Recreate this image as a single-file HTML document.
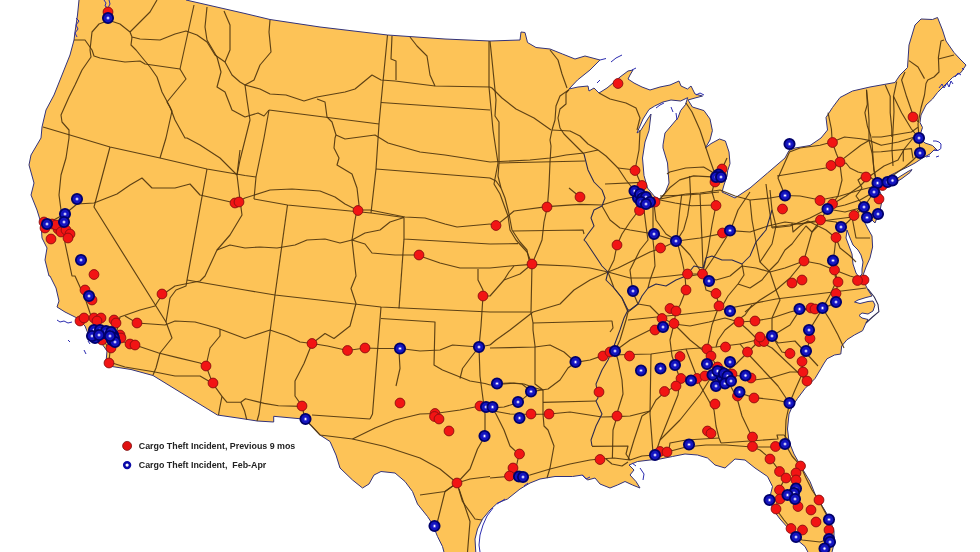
<!DOCTYPE html><html><head><meta charset="utf-8"><title>Cargo Theft Map</title><style>html,body{margin:0;padding:0;background:#fff}svg{display:block}text{font-family:"Liberation Sans",sans-serif;font-weight:bold;fill:#222}</style></head><body>
<svg width="980" height="552" viewBox="0 0 980 552">
<rect width="980" height="552" fill="#fff"/>
<polygon points="79,-3 186,-3 186,0 245,13.5 270,19.5 320,27 387.5,35 445,39 490,41 520,40 521,32 525,32.5 527.5,42.5 536,47.5 550,49 562.5,54 575,59 585,56 600,60 590,70 577.5,80 569,89 578,87 588,86 589,91 594,88 599,93 607,88 613,83 620,77 628,71 633,70 630,75 628,79 634,83 642,87 650,90 660,87 670,85 679,81 681,86 687.5,89 691,86 695,94 702.5,96 695,98 688,100 692.4,107 704,110.6 710,119 712.4,130.6 710,140 705.4,148 711,143.6 719.5,139 725.4,141 729,152 730,163.6 727.7,170.7 727,176 724,185 722,192 735,198 750,188 767.5,173 785,158 789,150.5 795,148 810,145.5 821,138 827.5,130 826,117.5 832.5,107.5 840,97.5 852.5,91 870,87 895,82.5 900,75 907.5,67.5 909,45 915,25 921,19 932.5,19.5 937.5,17.5 942.5,30 946,41 954,52.5 960,59 966,65 961,72.5 952.5,77.5 945,85 937.5,92.5 932.5,99 926,105 921,115 920,122.5 922.5,127.5 920,135 920,138 925,143 932.5,145.5 937.5,150.5 934,150 930,154 922.5,158 915,163 907.5,167 899,171 891,175 884,179 880,183 878,187 882.5,198 880,210.5 875,223 868,216 862.5,218 867.5,228 872,236 872.6,247 870,258 866,267 863.5,274 862,278 865,281 865.3,284.5 868,290 872,296 866,297.5 858,300 854.5,302 860,303.5 868,301.5 873,301 875,305 873,311 868,314 862,313 859,315.5 862,318 868,319.5 866,323 862.6,330.7 854.4,335 847,339.7 841.7,346 840.8,354 834.5,355 827,358.8 823.6,364 821,368.5 815,378.5 805,388.5 797.5,398.5 792.5,406 789,414 787.5,429 789,441.5 794,454 802.5,469 810,481.5 815,494 822.5,506.5 830,519 834,531.5 834,544 831,556 810,556 805,546.5 796,539 789,529 780,519 772.5,509 770,496.5 772.5,486.5 767.5,476.5 755,468 745,460 735,459 725,468 715,465 707.5,458 697.5,455 685,454 672.5,456.5 660,459 650,460 637.5,461.5 629,465 634,470 630,475 636,481.5 640,488 632.5,485 625,481.5 617.5,485 610,488 600,484 595,478 587.5,480 582.5,475 572.5,476.5 555,476.5 540,479 530,483 520,489 507.5,499 497.5,503 490,510 482.5,519 477.5,529 475,539 476,556 445,556 442.5,546.5 437.5,536.5 432.5,524 427.5,516.5 417.5,504 412.5,491.5 405,481.5 395,473 381,471.5 374,475 369,484 362.5,488 352.5,480 340,468 336,455 330,441.5 320,435 311,425 303,419 273.7,416.3 273.7,422 257.3,421 240,418.3 217.4,415 153,375.5 131,369.5 112,366.5 106,362 107,351 100,341 89,336 85,326 77,318 65,312 57,307 59,301 56,288 50,276 49,276 45,260 47,248 42,238 41,223 37,210 31,195 34,183 29,165 31,155 41,138 42,127 46,110 54,95 62,75 70,55 74,40 75,32 77.5,15 79,0" fill="#FDC357" stroke="#33337a" stroke-width="1" stroke-linejoin="round"/>
<polygon points="847,230 850,238 853,245 858,250 861,255 863,262 862,269 862,274 859,277 856,273 853,264 852,254 849,246 846,238" fill="#fff" stroke="#33337a" stroke-width="1" stroke-linejoin="round"/>
<polygon points="654.7,106 649,109.5 643,119 637,133 640.6,130.6 647.7,119 651,114 649,130.6 645,142 642.5,158 644,175.5 647.5,188 655,197 660,199 665,193 669,183 667.5,163 663,148 663,144.8 665,133 671,126 678,117.7 680.6,110.6 685.4,104.7 687.7,97.7 680.6,101 671,100 663,102" fill="#fff" stroke="#33337a" stroke-width="1" stroke-linejoin="round"/>
<polygon points="879,187.5 884,184 892,181.5 900,176.5 908,171.5 912,169.5 910,172.5 902,178.5 894,183.5 886,187.5 880,189.5" fill="#FDC357" stroke="#33337a" stroke-width="1" stroke-linejoin="round"/>
<g fill="none" stroke="#50360f" stroke-width="1.15" stroke-opacity="0.92" stroke-linejoin="round">
<polyline points="74,40 85,40 92,50 94,56 100,58 112,60 125,62 140,61 145,64 180,69"/>
<polyline points="194,5 180,69"/>
<polyline points="180,69 186,79 167,102 172,111 166,138 160,158"/>
<polyline points="43,127 80,138 110,147 160,158 207,169 245,175.5 256,177"/>
<polyline points="110,147 94,207 166,322"/>
<polyline points="207,169 187,280 186,286 176,290 170,298 166,322 172,338 160,353 156,368 153,375"/>
<polyline points="207,7 205,27 207,40 217,57 221,72 217,87 225,92 232,110 245,117 258,113 264,116 269,110"/>
<polyline points="269,110 264,138 256,177 254,199"/>
<polyline points="269,110 379,124"/>
<polyline points="387.5,35 381,102.5 379,124 376,169 371,213"/>
<polyline points="381,102.5 490,110"/>
<polyline points="376,169 490,178"/>
<polyline points="254,199 287.5,205 371,213 404,217.5"/>
<polyline points="404,217.5 404,239 490,244"/>
<polyline points="287.5,205 275,295"/>
<polyline points="404,239 399,308.5"/>
<polyline points="187,280 245,290 275,295 381,307 490,312 531,312"/>
<polyline points="275,295 259,414 257,421"/>
<polyline points="381,307 372.5,414 370,419"/>
<polyline points="312,415 370,419"/>
<polyline points="381,318.5 435,322 434,365 442.5,370 457.5,376 470,381 485,383.5 490,385"/>
<polyline points="490,41 492,60 494,80 496,100 495,116 499,122 499,163"/>
<polyline points="499,163 585,161"/>
<polyline points="490,178 496,181 501,188"/>
<polyline points="499,163 498,176 501,188 505,198 509,214 512,230 520,242 527,250 529,260 532,264"/>
<polyline points="513,231 583,230 584,234"/>
<polyline points="490,244 518,243.6"/>
<polyline points="532,264 531,312 533,323 533,330 535,346 535,384 543,390 543,414 544,426 548,430 554,446 550,468 547,478"/>
<polyline points="533,323 610,321 612,321 613,328 610,332"/>
<polyline points="490,385 504,384 514,383 524,384 535,388 543,390"/>
<polyline points="543,402.4 596,401"/>
<polyline points="569,89.6 566,93 566,104 560,109 558,118 560,128 564,134 570,140 576,146 584,154"/>
<polyline points="599,93 610,99 626,103 636,108 640,118 638,126 637,130"/>
<polyline points="605,184 642,182.4"/>
<polyline points="653,206 653,240 654,250 655,266 650,280 648,288"/>
<polyline points="660,196 686,195 700,194 719,192"/>
<polyline points="700,194 702,240 703,268"/>
<polyline points="766,184 768,200 772,228"/>
<polyline points="628,320 686,314 720,310 776,299 866,288"/>
<polyline points="752,305 745,315 735,322 725,330 718,340 716,347"/>
<polyline points="608,352 610,355 651,354 686,349 716,347 740,344"/>
<polyline points="651,354 650,414 652,440 653,453"/>
<polyline points="686,349 700,385 714,410 716,426 719,438 721,443"/>
<polyline points="668,455 670,443 686,440 719,438"/>
<polyline points="721,443 778,439 777,435 784,435 789,441"/>
<polyline points="740,344 750,356 765,372 778,386 786,398 790,406"/>
<polyline points="740,344 757,340 772,337 778,343 795,341 818,366"/>
<polyline points="742,264 744,275 738,284 728,296 720,310"/>
<polyline points="738,284 750,288 762,280 770,270 778,262 785,250 792,244 798,236 806,226 812,232 818,226"/>
<polyline points="772,227 814,222 852,217"/>
<polyline points="792,223 793,232 800,226 808,221 818,226 826,230 836,238 840,248 850,256 856,262"/>
<polyline points="852,217 856,238 870,238"/>
<polyline points="852,217 858,210 862,204 856,196 862,188 858,180 866,174 878,183"/>
<polyline points="777,176 832,167 846,163 850,168 858,172 866,174"/>
<polyline points="866.5,89.8 867.3,104.5 864.9,112.7 867.3,125.7 870.6,135.5 872.2,145.3 873.9,170 876,180"/>
<polyline points="885.3,85 890.2,96.3 890.2,112.7 891.8,129 891.8,137"/>
<polyline points="905,72 901.6,80 906.5,96.3 912.2,112.7 918,122"/>
<polyline points="872,137 881.2,137 911.4,132 918,127.3"/>
<polyline points="873,152 881.2,151.8 911.4,148.6 913,158.4"/>
<polyline points="903.3,150.2 903.3,161.6"/>
<polyline points="592,446.4 628,446 626,454 630,460"/>
</g>
<g fill="none" stroke="#50360f" stroke-width="1.15" stroke-opacity="0.92" stroke-linejoin="round">
<polyline points="107,21 99,24 92,32 90,50 91,57 82,70 75,85 69,97 61,115 62,122 69,130 69,138 66,158 61,175 59,195 61,210 64,223 65,243 72,276 75,276 85,298 90,313 95,326 103,339 110,351 109,362"/>
<polyline points="111,21 120,24 130,32 132,37 140,39 160,40 175,34 186,31 197,35 207,42 215,55 225,62 232,75 240,82 245,85 260,89 270,94 286,95 304,101 317,97 345,92 355,89 372,75 381,80 395,81 435,86 490,87"/>
<polyline points="130,32 140,22 150,12 157,0"/>
<polyline points="132,37 131,45 136,50 145,61 150,67 157,77 162,92 170,107 175,120 185,138 187,138 200,145 220,158 235,173 237,175"/>
<polyline points="270,20 269,32 271,52 260,65 254,80 245,85"/>
<polyline points="240,150 237,175 240,200 242,215 230,235 217,250 205,276 200,281 175,286 162,295 155,306 140,310 120,317 117,330"/>
<polyline points="46,224 65,214 77,204 94,203 117,194 130,185 142,178 152,188 175,188 190,184 200,195 235,203 245,198 270,190 292,189 320,191 335,197 345,204 357,210 370,210 385,213 405,217 425,218 445,224 457,227 490,224"/>
<polyline points="217,250 230,245 245,248 260,247 277,248 295,245 307,240 325,239 340,243 352,240 365,244 372,253 395,255 417,255 440,263 460,268 490,268"/>
<polyline points="317,99 325,102 327,117 332,122 336,135 335,138 334,148 339,158 337,165 352,174 357,188 359,205 357,210 355,220 352,240 354,258 356,276 351,288.5 356,303.5 350,326 334,338.5 325,333.5 312,343.5 304,363.5 295,381 295,396 302,406 305,419"/>
<polyline points="336,135 345,139 375,135 388,143 395,145 420,152 445,155 490,162"/>
<polyline points="352,240 365,233 380,230 390,222 404,217.5"/>
<polyline points="125,316 137,323 165,325 175,321 195,322 217,328 245,338.5 270,330 287.5,336 300,342 312,343.5 327.5,346 347.5,350.5 365,348 380,348.5 400,348.5 420,351 440,350 452.5,345 479,347 490,345"/>
<polyline points="120,341 135,345 158.7,353 177.5,357.6 200,363 206,366 212.7,383.4 222,396.3 226.8,402.2 240.8,402.2 245.5,398.7 264.3,403.4 278.4,405.7 302,406.4"/>
<polyline points="222,396.3 219.7,408 218.5,415"/>
<polyline points="240.8,402.2 244.4,410.4 246.7,419.5"/>
<polyline points="109,362 125,367 155,372 175,376 200,376 212,383"/>
<polyline points="206,366 210,348 220,336 220,329"/>
<polyline points="305,419 320,435 352.5,439 385,446.5 420,458 440,469 457,483 470,479 490,476.5"/>
<polyline points="352.5,439 375,428 395,420 420,414 435,413.5 460,410 480,406"/>
<polyline points="483,296 481,326 479,347 480,376 485,414 485,436 477.5,449 470,469 457,483 445,491.5 437.5,521.5 434.5,526"/>
<polyline points="457,483 462.5,501.5 475,519 482,520"/>
<polyline points="457,483 445,491.5 420,495"/>
<polyline points="459,489 470,521.5 467.5,552"/>
<polyline points="399,351 400,368.5 396,386"/>
<polyline points="479,347 470,358.5 462.5,368.5 460,378.5"/>
<polyline points="392,36 391,59 396,61 396,80"/>
<polyline points="410,37 417,46 427,56 430,75 435,86"/>
<polyline points="224,11 230,25 230,50 225,62"/>
<polyline points="478,269 478,280 483,290 483,296"/>
<polyline points="504,280 509,272 514,266"/>
<polyline points="237,175 240,160 245,140 250,120 247,100 245,85"/>
<polyline points="489,41 489,87 493,130 496,150 498,163 494,184 500,194 508,216 510,230 516,240 527,252 532,264"/>
<polyline points="490,87 492,88 502,98 516,109 534,118 551,130"/>
<polyline points="569,89.6 560,96 556,106 555,120 552,130 550,140 551,146 550,162 549,186 547.4,206.6 544,222 542,240 538,250 532,264 520,274 504,280 490,296 482.5,296"/>
<polyline points="550,50 558,60 562,74 567,88"/>
<polyline points="552,130 570,131 580,136 588,144 598,150 606,156 618,168 626,180 634,190 640,194"/>
<polyline points="618,168 635,170 639,150 640,130"/>
<polyline points="635,170 640,182 642,190"/>
<polyline points="490,162 530,160 550,158 566,155 584,153 598,150"/>
<polyline points="490,224 496,225.6 508,216 514,211 547,206.6 580,204.4 602,205 618,200 634,197 650,204 660,199 686,194 700,193 720,190 735,196 750,200 770,198 785,195.5 800,196 820,200 840,196 860,190 876,186"/>
<polyline points="569,188 580,197"/>
<polyline points="639,210 630,222 622,234 617,245 614,260 608,272 614,288 622,298 628,312 626,320 620,340 615,351 618,360 622,380 623,394 618,410 617,416.6 613,430 612.4,458"/>
<polyline points="644,210 646,226 648,240 640,250 630,270 632,286 632.6,291.6 638,304 628,312"/>
<polyline points="654,204 656,220 666,234 677,241 682,260 685,275 686,290 680,305 676,311 674,324 670,340 672,356 680,379 678,395 668,420 660,440 655,455"/>
<polyline points="602,206 610,220 620,228 630,230 654,234 677,241 690,255 702.5,274"/>
<polyline points="490,268 510,266 532,264.4 570,266 590,268 608,272 618,268 630,262 650,252 660.6,248.4 677,241 700,238 722,233.6 730.4,230.6 750,232 768,226 785,222 800,224 820,220 836,222 841,227"/>
<polyline points="608,272 590,280 574,290 560,304 533,312 510,330 496,340 490,345"/>
<polyline points="608,272 630,278 650,278 670,276 687.5,274 702.5,274 716,280 730,276 742,266 756,268 770,272 785,268 804,261 820,264 834.5,270 850,276 864,280"/>
<polyline points="638,304 650,306 662,318 674,324 690,340 705,352 707,349"/>
<polyline points="490,348 510,347.6 535,347 550,345 564,352 575.6,362.4 590,360 602.6,355.6 615,351 630,340 650,330 674,324 690,326 709,322 725,318 739,322 755,321 772,318 790,312 800,309.6 815,309.6 822.6,308.4 830,320 838,335 844,348"/>
<polyline points="575.6,362.4 568,368 560,380 548,389 531.4,391.6 519,402.4 504,407 492,408"/>
<polyline points="497,383.6 510,383 522,384 531.4,391.6"/>
<polyline points="480,406 493.6,411 510,414 530.6,414.4 549.4,414 570,412 602,417 617,416.6 630,416 650,411 656,400 664.6,392.4 675.6,386 680.6,379 690,381 705,376 723,374 740,376 754,380 770,378 790,372 803,372"/>
<polyline points="492,408 496,414 504,430 510,446 519,454.4 516,468 518,476.4"/>
<polyline points="490,478 509,476.4 530,475 550,469 570,464 590,460 599.6,459 614,458 630,460 642,456 654.4,455 667,452 686,447 706,445 726,445 752.6,447 775.4,447 785,443.6"/>
<polyline points="606,459 612,464 622,466 628,462"/>
<polyline points="628,460 634,440 642,416 650,411"/>
<polyline points="716,177 712,192 716,205.4 712,225 708,250 702.5,274 706,290 716,293.6 719,306 712,325 707,349 711,356 717,367 723,374 730,385 737,398 742,416 752,437 752.6,447 760,450 770.4,458.6 779.4,471 785.4,478 779,489.4 776,509 784,520 791,528.5 802,540 820,542 829,539"/>
<polyline points="660,440 680,420 700,395 712.5,375 723,374 736,364 748,352 759,341 772,336 790,325 800,309.6 811,307.6 822.6,308.4 830,295 836,282 834.5,270"/>
<polyline points="829,539 829,519.5 818,499 812,490 806,478 800.4,465.6 792,456 785,443.6 786,420 789.6,403 795,390 803,372 801.6,361 806.6,351.6 810,338.4 809.4,330 822.6,308.4 837,302.4 836,293.6 838,282 834.5,270 833.4,260.4 836,238 841.6,228 854,216 863.4,207.6 870,198 877,186 885,180 895,174 905,167 913,160 920,153 919,138 918,124 921,108 924.5,95 926,83.5 927.8,80 934,77 939,72 938.4,57.3 941,41 944,40"/>
<polyline points="938.4,59 954,55"/>
<polyline points="909,60.6 918,67 924.5,78.6"/>
<polyline points="796,479 796,488 787,494 779,499 769.5,500"/>
<polyline points="737,398 739.6,393 754,397.6 776,400 789.6,403"/>
<polyline points="807,381 790,365 772,348 759,341 748,330 739,322"/>
<polyline points="750,200 752,220 756,242 760,262 770,272 776,290 780,300 772,318 772,336 782,352 789.6,353.6"/>
<polyline points="828,112.7 831.4,129 832.2,142 836.3,153.5 839.6,161.6 842,180 838,196 832.5,204 827.5,209 820.5,220 812,232 803.6,261.4 790,278 776,290 760,300 745,312"/>
<polyline points="770,190 772,210 776,226 772,244 760,262"/>
<polyline points="750,192 738,210 730.4,230.6 716,254 702.5,274 690,276 687.5,274"/>
<polyline points="660,199 669.7,187.8 679.7,179.9 693.6,175.9 711.6,176.9"/>
<polyline points="667,174 669.7,172 685.7,168 703.6,167 715.5,174"/>
<polyline points="689.6,176 690.6,195.8 687.6,215.7 683.7,229.7 676.7,240.6"/>
<polyline points="676.7,240.6 679.7,209.8 681.7,194.8"/>
<polyline points="660,200 675,203 691.6,205.8 716,205"/>
<polyline points="716,177 710,160 706,148 700,130 692,112 686,103"/>
<polyline points="722,169 727,158"/>
<polyline points="785,195.5 778,178 789.5,152 800,148 820,145.3 832.2,142 844.5,137 860.8,138.8 869,140.4 881.2,145.3 898.4,142 914.7,137 919,138"/>
<polyline points="839.6,161.6 860.8,145.3 869,140.4"/>
<polyline points="869,140.4 872.2,153.5 874,170 877,183"/>
<polyline points="866.5,89.8 868,104 869,120 869,140.4"/>
<polyline points="896.7,81.6 893.5,96.3 894,112 893,130 892,150 893,166"/>
<polyline points="893.5,96.3 901.6,112.7 911.4,129 919,138"/>
<polyline points="832.5,204 846,196 860,186 870,176 884,166 898,160 905,148 914,137"/>
<polyline points="772,228 790,226 810,218 827.5,209 845,212 864,207"/>
<polyline points="827.5,209 845,205 860,200 874,192"/>
</g>
<g fill="none" stroke="#2a2850" stroke-width="1.05" stroke-linejoin="round">
<polyline points="868,289 874.3,297 878,304.4 878.9,311.7 872.5,317 866,323"/>
<polyline points="584,154 588,170 594,182 602,190 605,198 602,206 594,210 591,218 594,226 588,234 584,240 586,242 594,254 602,266 608,272 606,280 614,288 622,298 628,310 624,318 620,330 614,346 608,360 602,370 596,384 598,398 596,401 602,414 596,426 591,440 592,446"/>
<polyline points="772,210 766,230 756,242 750,256 742,264 732,260 722,260 712,256 706,258 703,268 694,266 686,276 676,280 666,286 656,284 648,288 642,296 638,304 630,310 628,310"/>
</g>
<g fill="none" stroke="#2c2cb0" stroke-width="1" stroke-linejoin="round">
<polyline points="104,0 106,3 105,6 108,8 110,4 109,0"/>
<polyline points="76,18 79,21 76,25 78,29 75,33 77,37"/>
<polyline points="57,320 60,322 64,321 68,323 72,322"/>
<polyline points="68,340 70,342"/>
<polyline points="88,341 90,344"/>
<polyline points="84,350 86,354"/>
<polyline points="611,62 616,58 622,55"/>
<polyline points="597,83 600,80"/>
<polyline points="600,60 606,58.5"/>
<polyline points="632,70 636,68"/>
<polyline points="656,108 660,105 664,103"/>
<polyline points="671,107 673,112"/>
<polyline points="676,113 677,120"/>
<polyline points="696,95 700,93 704,95"/>
<polyline points="939,88 942,84 944,88 947,83 949,87 951,81 953,84"/>
<polyline points="955,77 958,73 961,75"/>
<polyline points="962,68 964,70"/>
<polyline points="934,150 938,150.5 940.8,148.6 941,144 939,142 936,141 933,141"/>
<polyline points="926,157 930,156"/>
<polyline points="936,157 939,156"/>
<polyline points="582,475 586,479 590,477"/>
<polyline points="640,468 644,474 643,480"/>
<polyline points="632,463 636,466"/>
<polyline points="493,508 487,516 483,525 480,535 479,545 480,552"/>
<polyline points="524,486 528,483"/>
<polyline points="497,504 505,499"/>
</g>
<g fill="#f21414" stroke="#8a1010" stroke-width="0.9">
<circle cx="108" cy="12" r="4.9"/>
<circle cx="52" cy="224" r="4.9"/>
<circle cx="58" cy="229" r="4.9"/>
<circle cx="63" cy="228" r="4.9"/>
<circle cx="44" cy="222" r="4.9"/>
<circle cx="45" cy="228" r="4.9"/>
<circle cx="56" cy="225" r="4.9"/>
<circle cx="61" cy="232" r="4.9"/>
<circle cx="66" cy="230" r="4.9"/>
<circle cx="70" cy="234" r="4.9"/>
<circle cx="68" cy="238" r="4.9"/>
<circle cx="51" cy="239" r="4.9"/>
<circle cx="94" cy="274.5" r="4.9"/>
<circle cx="85" cy="290" r="4.9"/>
<circle cx="92" cy="300" r="4.9"/>
<circle cx="235" cy="203" r="4.9"/>
<circle cx="239" cy="202" r="4.9"/>
<circle cx="162" cy="294" r="4.9"/>
<circle cx="137" cy="323" r="4.9"/>
<circle cx="80" cy="321" r="4.9"/>
<circle cx="84" cy="318" r="4.9"/>
<circle cx="94" cy="318" r="4.9"/>
<circle cx="101" cy="318" r="4.9"/>
<circle cx="97" cy="321" r="4.9"/>
<circle cx="114" cy="320" r="4.9"/>
<circle cx="116" cy="323" r="4.9"/>
<circle cx="120" cy="335" r="4.9"/>
<circle cx="121" cy="338" r="4.9"/>
<circle cx="111" cy="348" r="4.9"/>
<circle cx="102" cy="340" r="4.9"/>
<circle cx="130" cy="344" r="4.9"/>
<circle cx="135" cy="345" r="4.9"/>
<circle cx="109" cy="363" r="4.9"/>
<circle cx="206" cy="366" r="4.9"/>
<circle cx="213" cy="383" r="4.9"/>
<circle cx="358" cy="210.5" r="4.9"/>
<circle cx="419" cy="255" r="4.9"/>
<circle cx="312" cy="343.5" r="4.9"/>
<circle cx="347.5" cy="350.5" r="4.9"/>
<circle cx="365" cy="348" r="4.9"/>
<circle cx="302" cy="406" r="4.9"/>
<circle cx="400" cy="403" r="4.9"/>
<circle cx="435" cy="413.5" r="4.9"/>
<circle cx="480" cy="406" r="4.9"/>
<circle cx="483" cy="296" r="4.9"/>
<circle cx="434.5" cy="416.5" r="4.9"/>
<circle cx="439" cy="419" r="4.9"/>
<circle cx="449" cy="431" r="4.9"/>
<circle cx="457" cy="483" r="4.9"/>
<circle cx="618" cy="83.5" r="4.9"/>
<circle cx="635" cy="170.5" r="4.9"/>
<circle cx="642" cy="185.5" r="4.9"/>
<circle cx="639.5" cy="210.5" r="4.9"/>
<circle cx="655" cy="202" r="4.9"/>
<circle cx="580" cy="197" r="4.9"/>
<circle cx="547" cy="207" r="4.9"/>
<circle cx="496" cy="225.5" r="4.9"/>
<circle cx="532" cy="264" r="4.9"/>
<circle cx="617" cy="245" r="4.9"/>
<circle cx="660.5" cy="248" r="4.9"/>
<circle cx="687.5" cy="274" r="4.9"/>
<circle cx="702.5" cy="274" r="4.9"/>
<circle cx="722" cy="169" r="4.9"/>
<circle cx="715" cy="182" r="4.9"/>
<circle cx="716" cy="205.5" r="4.9"/>
<circle cx="722.5" cy="233" r="4.9"/>
<circle cx="686" cy="290" r="4.9"/>
<circle cx="716" cy="293.5" r="4.9"/>
<circle cx="719" cy="306" r="4.9"/>
<circle cx="670" cy="308.5" r="4.9"/>
<circle cx="676" cy="311" r="4.9"/>
<circle cx="662" cy="318.5" r="4.9"/>
<circle cx="674" cy="323.5" r="4.9"/>
<circle cx="655" cy="330" r="4.9"/>
<circle cx="603" cy="356" r="4.9"/>
<circle cx="610" cy="352" r="4.9"/>
<circle cx="629.5" cy="356" r="4.9"/>
<circle cx="680" cy="356.5" r="4.9"/>
<circle cx="707" cy="349" r="4.9"/>
<circle cx="725.5" cy="347" r="4.9"/>
<circle cx="711" cy="356" r="4.9"/>
<circle cx="681" cy="378.5" r="4.9"/>
<circle cx="676" cy="386" r="4.9"/>
<circle cx="697" cy="378.5" r="4.9"/>
<circle cx="664.5" cy="391.5" r="4.9"/>
<circle cx="599" cy="392" r="4.9"/>
<circle cx="705" cy="376" r="4.9"/>
<circle cx="715" cy="404" r="4.9"/>
<circle cx="717.5" cy="367" r="4.9"/>
<circle cx="732" cy="374" r="4.9"/>
<circle cx="531" cy="414" r="4.9"/>
<circle cx="549" cy="414" r="4.9"/>
<circle cx="617" cy="416" r="4.9"/>
<circle cx="519.5" cy="454" r="4.9"/>
<circle cx="513" cy="468" r="4.9"/>
<circle cx="509.5" cy="476" r="4.9"/>
<circle cx="600" cy="459.5" r="4.9"/>
<circle cx="660" cy="451.5" r="4.9"/>
<circle cx="667" cy="452" r="4.9"/>
<circle cx="707.5" cy="431" r="4.9"/>
<circle cx="711" cy="433.5" r="4.9"/>
<circle cx="913" cy="117" r="4.9"/>
<circle cx="832.5" cy="142.5" r="4.9"/>
<circle cx="831" cy="165.5" r="4.9"/>
<circle cx="840" cy="162" r="4.9"/>
<circle cx="866" cy="177" r="4.9"/>
<circle cx="879" cy="199" r="4.9"/>
<circle cx="882.5" cy="185.5" r="4.9"/>
<circle cx="782.5" cy="209" r="4.9"/>
<circle cx="820" cy="200.5" r="4.9"/>
<circle cx="832.5" cy="204" r="4.9"/>
<circle cx="820.5" cy="220" r="4.9"/>
<circle cx="854" cy="215.5" r="4.9"/>
<circle cx="836" cy="237.5" r="4.9"/>
<circle cx="804" cy="261" r="4.9"/>
<circle cx="834.5" cy="270" r="4.9"/>
<circle cx="864" cy="280" r="4.9"/>
<circle cx="792" cy="283" r="4.9"/>
<circle cx="802" cy="280" r="4.9"/>
<circle cx="838" cy="282" r="4.9"/>
<circle cx="836" cy="293.5" r="4.9"/>
<circle cx="857.5" cy="280.5" r="4.9"/>
<circle cx="811" cy="308" r="4.9"/>
<circle cx="815" cy="309" r="4.9"/>
<circle cx="810" cy="338.5" r="4.9"/>
<circle cx="790" cy="353.5" r="4.9"/>
<circle cx="802" cy="361.5" r="4.9"/>
<circle cx="803" cy="372" r="4.9"/>
<circle cx="807" cy="381" r="4.9"/>
<circle cx="754" cy="398" r="4.9"/>
<circle cx="751" cy="378" r="4.9"/>
<circle cx="737.5" cy="396" r="4.9"/>
<circle cx="747.5" cy="352" r="4.9"/>
<circle cx="759" cy="341.5" r="4.9"/>
<circle cx="764" cy="341.5" r="4.9"/>
<circle cx="760" cy="337" r="4.9"/>
<circle cx="755" cy="321" r="4.9"/>
<circle cx="739" cy="322" r="4.9"/>
<circle cx="752.5" cy="437" r="4.9"/>
<circle cx="752.5" cy="446.5" r="4.9"/>
<circle cx="775.5" cy="446.5" r="4.9"/>
<circle cx="770" cy="459" r="4.9"/>
<circle cx="800.5" cy="466" r="4.9"/>
<circle cx="779.5" cy="471.5" r="4.9"/>
<circle cx="796" cy="473" r="4.9"/>
<circle cx="786" cy="478" r="4.9"/>
<circle cx="796" cy="480" r="4.9"/>
<circle cx="779.5" cy="490" r="4.9"/>
<circle cx="780" cy="499" r="4.9"/>
<circle cx="776" cy="509" r="4.9"/>
<circle cx="798" cy="506.5" r="4.9"/>
<circle cx="819" cy="500" r="4.9"/>
<circle cx="811" cy="510" r="4.9"/>
<circle cx="816" cy="522" r="4.9"/>
<circle cx="791" cy="528.5" r="4.9"/>
<circle cx="802.5" cy="530" r="4.9"/>
<circle cx="829" cy="530" r="4.9"/>
</g>
<g stroke-linejoin="round">
<circle cx="108" cy="18" r="5.15" fill="#1414c0" stroke="#00006a" stroke-width="1.8"/><circle cx="108" cy="18" r="1.5" fill="#f4f4ff" stroke="#3c3cdc" stroke-width="0.8"/>
<circle cx="77" cy="199" r="5.15" fill="#1414c0" stroke="#00006a" stroke-width="1.8"/><circle cx="77" cy="199" r="1.5" fill="#f4f4ff" stroke="#3c3cdc" stroke-width="0.8"/>
<circle cx="65" cy="214" r="5.15" fill="#1414c0" stroke="#00006a" stroke-width="1.8"/><circle cx="65" cy="214" r="1.5" fill="#f4f4ff" stroke="#3c3cdc" stroke-width="0.8"/>
<circle cx="64" cy="222" r="5.15" fill="#1414c0" stroke="#00006a" stroke-width="1.8"/><circle cx="64" cy="222" r="1.5" fill="#f4f4ff" stroke="#3c3cdc" stroke-width="0.8"/>
<circle cx="47" cy="224" r="5.15" fill="#1414c0" stroke="#00006a" stroke-width="1.8"/><circle cx="47" cy="224" r="1.5" fill="#f4f4ff" stroke="#3c3cdc" stroke-width="0.8"/>
<circle cx="81" cy="260" r="5.15" fill="#1414c0" stroke="#00006a" stroke-width="1.8"/><circle cx="81" cy="260" r="1.5" fill="#f4f4ff" stroke="#3c3cdc" stroke-width="0.8"/>
<circle cx="89" cy="296" r="5.15" fill="#1414c0" stroke="#00006a" stroke-width="1.8"/><circle cx="89" cy="296" r="1.5" fill="#f4f4ff" stroke="#3c3cdc" stroke-width="0.8"/>
<circle cx="96" cy="333" r="5.15" fill="#1414c0" stroke="#00006a" stroke-width="1.8"/><circle cx="96" cy="333" r="1.5" fill="#f4f4ff" stroke="#3c3cdc" stroke-width="0.8"/>
<circle cx="103" cy="333" r="5.15" fill="#1414c0" stroke="#00006a" stroke-width="1.8"/><circle cx="103" cy="333" r="1.5" fill="#f4f4ff" stroke="#3c3cdc" stroke-width="0.8"/>
<circle cx="108" cy="334" r="5.15" fill="#1414c0" stroke="#00006a" stroke-width="1.8"/><circle cx="108" cy="334" r="1.5" fill="#f4f4ff" stroke="#3c3cdc" stroke-width="0.8"/>
<circle cx="113" cy="335" r="5.15" fill="#1414c0" stroke="#00006a" stroke-width="1.8"/><circle cx="113" cy="335" r="1.5" fill="#f4f4ff" stroke="#3c3cdc" stroke-width="0.8"/>
<circle cx="112" cy="340" r="5.15" fill="#1414c0" stroke="#00006a" stroke-width="1.8"/><circle cx="112" cy="340" r="1.5" fill="#f4f4ff" stroke="#3c3cdc" stroke-width="0.8"/>
<circle cx="95" cy="338" r="5.15" fill="#1414c0" stroke="#00006a" stroke-width="1.8"/><circle cx="95" cy="338" r="1.5" fill="#f4f4ff" stroke="#3c3cdc" stroke-width="0.8"/>
<circle cx="94" cy="330" r="5.15" fill="#1414c0" stroke="#00006a" stroke-width="1.8"/><circle cx="94" cy="330" r="1.5" fill="#f4f4ff" stroke="#3c3cdc" stroke-width="0.8"/>
<circle cx="100" cy="330" r="5.15" fill="#1414c0" stroke="#00006a" stroke-width="1.8"/><circle cx="100" cy="330" r="1.5" fill="#f4f4ff" stroke="#3c3cdc" stroke-width="0.8"/>
<circle cx="106" cy="331" r="5.15" fill="#1414c0" stroke="#00006a" stroke-width="1.8"/><circle cx="106" cy="331" r="1.5" fill="#f4f4ff" stroke="#3c3cdc" stroke-width="0.8"/>
<circle cx="111" cy="332" r="5.15" fill="#1414c0" stroke="#00006a" stroke-width="1.8"/><circle cx="111" cy="332" r="1.5" fill="#f4f4ff" stroke="#3c3cdc" stroke-width="0.8"/>
<circle cx="92" cy="336" r="5.15" fill="#1414c0" stroke="#00006a" stroke-width="1.8"/><circle cx="92" cy="336" r="1.5" fill="#f4f4ff" stroke="#3c3cdc" stroke-width="0.8"/>
<circle cx="99" cy="335" r="5.15" fill="#1414c0" stroke="#00006a" stroke-width="1.8"/><circle cx="99" cy="335" r="1.5" fill="#f4f4ff" stroke="#3c3cdc" stroke-width="0.8"/>
<circle cx="114" cy="338" r="5.15" fill="#1414c0" stroke="#00006a" stroke-width="1.8"/><circle cx="114" cy="338" r="1.5" fill="#f4f4ff" stroke="#3c3cdc" stroke-width="0.8"/>
<circle cx="115" cy="342" r="5.15" fill="#1414c0" stroke="#00006a" stroke-width="1.8"/><circle cx="115" cy="342" r="1.5" fill="#f4f4ff" stroke="#3c3cdc" stroke-width="0.8"/>
<circle cx="110" cy="336" r="5.15" fill="#1414c0" stroke="#00006a" stroke-width="1.8"/><circle cx="110" cy="336" r="1.5" fill="#f4f4ff" stroke="#3c3cdc" stroke-width="0.8"/>
<circle cx="400" cy="348.5" r="5.15" fill="#1414c0" stroke="#00006a" stroke-width="1.8"/><circle cx="400" cy="348.5" r="1.5" fill="#f4f4ff" stroke="#3c3cdc" stroke-width="0.8"/>
<circle cx="479" cy="347" r="5.15" fill="#1414c0" stroke="#00006a" stroke-width="1.8"/><circle cx="479" cy="347" r="1.5" fill="#f4f4ff" stroke="#3c3cdc" stroke-width="0.8"/>
<circle cx="486" cy="407" r="5.15" fill="#1414c0" stroke="#00006a" stroke-width="1.8"/><circle cx="486" cy="407" r="1.5" fill="#f4f4ff" stroke="#3c3cdc" stroke-width="0.8"/>
<circle cx="305.5" cy="419" r="5.15" fill="#1414c0" stroke="#00006a" stroke-width="1.8"/><circle cx="305.5" cy="419" r="1.5" fill="#f4f4ff" stroke="#3c3cdc" stroke-width="0.8"/>
<circle cx="484.5" cy="436" r="5.15" fill="#1414c0" stroke="#00006a" stroke-width="1.8"/><circle cx="484.5" cy="436" r="1.5" fill="#f4f4ff" stroke="#3c3cdc" stroke-width="0.8"/>
<circle cx="434.5" cy="526" r="5.15" fill="#1414c0" stroke="#00006a" stroke-width="1.8"/><circle cx="434.5" cy="526" r="1.5" fill="#f4f4ff" stroke="#3c3cdc" stroke-width="0.8"/>
<circle cx="638" cy="198" r="5.15" fill="#1414c0" stroke="#00006a" stroke-width="1.8"/><circle cx="638" cy="198" r="1.5" fill="#f4f4ff" stroke="#3c3cdc" stroke-width="0.8"/>
<circle cx="644" cy="200" r="5.15" fill="#1414c0" stroke="#00006a" stroke-width="1.8"/><circle cx="644" cy="200" r="1.5" fill="#f4f4ff" stroke="#3c3cdc" stroke-width="0.8"/>
<circle cx="634.5" cy="191" r="5.15" fill="#1414c0" stroke="#00006a" stroke-width="1.8"/><circle cx="634.5" cy="191" r="1.5" fill="#f4f4ff" stroke="#3c3cdc" stroke-width="0.8"/>
<circle cx="640" cy="194" r="5.15" fill="#1414c0" stroke="#00006a" stroke-width="1.8"/><circle cx="640" cy="194" r="1.5" fill="#f4f4ff" stroke="#3c3cdc" stroke-width="0.8"/>
<circle cx="642.5" cy="198" r="5.15" fill="#1414c0" stroke="#00006a" stroke-width="1.8"/><circle cx="642.5" cy="198" r="1.5" fill="#f4f4ff" stroke="#3c3cdc" stroke-width="0.8"/>
<circle cx="646" cy="197" r="5.15" fill="#1414c0" stroke="#00006a" stroke-width="1.8"/><circle cx="646" cy="197" r="1.5" fill="#f4f4ff" stroke="#3c3cdc" stroke-width="0.8"/>
<circle cx="650" cy="202" r="5.15" fill="#1414c0" stroke="#00006a" stroke-width="1.8"/><circle cx="650" cy="202" r="1.5" fill="#f4f4ff" stroke="#3c3cdc" stroke-width="0.8"/>
<circle cx="641" cy="202" r="5.15" fill="#1414c0" stroke="#00006a" stroke-width="1.8"/><circle cx="641" cy="202" r="1.5" fill="#f4f4ff" stroke="#3c3cdc" stroke-width="0.8"/>
<circle cx="646" cy="204" r="5.15" fill="#1414c0" stroke="#00006a" stroke-width="1.8"/><circle cx="646" cy="204" r="1.5" fill="#f4f4ff" stroke="#3c3cdc" stroke-width="0.8"/>
<circle cx="654" cy="234" r="5.15" fill="#1414c0" stroke="#00006a" stroke-width="1.8"/><circle cx="654" cy="234" r="1.5" fill="#f4f4ff" stroke="#3c3cdc" stroke-width="0.8"/>
<circle cx="676" cy="241" r="5.15" fill="#1414c0" stroke="#00006a" stroke-width="1.8"/><circle cx="676" cy="241" r="1.5" fill="#f4f4ff" stroke="#3c3cdc" stroke-width="0.8"/>
<circle cx="718.5" cy="174.5" r="5.15" fill="#1414c0" stroke="#00006a" stroke-width="1.8"/><circle cx="718.5" cy="174.5" r="1.5" fill="#f4f4ff" stroke="#3c3cdc" stroke-width="0.8"/>
<circle cx="716" cy="177" r="5.15" fill="#1414c0" stroke="#00006a" stroke-width="1.8"/><circle cx="716" cy="177" r="1.5" fill="#f4f4ff" stroke="#3c3cdc" stroke-width="0.8"/>
<circle cx="721" cy="177" r="5.15" fill="#1414c0" stroke="#00006a" stroke-width="1.8"/><circle cx="721" cy="177" r="1.5" fill="#f4f4ff" stroke="#3c3cdc" stroke-width="0.8"/>
<circle cx="730" cy="230.5" r="5.15" fill="#1414c0" stroke="#00006a" stroke-width="1.8"/><circle cx="730" cy="230.5" r="1.5" fill="#f4f4ff" stroke="#3c3cdc" stroke-width="0.8"/>
<circle cx="633" cy="291" r="5.15" fill="#1414c0" stroke="#00006a" stroke-width="1.8"/><circle cx="633" cy="291" r="1.5" fill="#f4f4ff" stroke="#3c3cdc" stroke-width="0.8"/>
<circle cx="709" cy="281" r="5.15" fill="#1414c0" stroke="#00006a" stroke-width="1.8"/><circle cx="709" cy="281" r="1.5" fill="#f4f4ff" stroke="#3c3cdc" stroke-width="0.8"/>
<circle cx="730" cy="311" r="5.15" fill="#1414c0" stroke="#00006a" stroke-width="1.8"/><circle cx="730" cy="311" r="1.5" fill="#f4f4ff" stroke="#3c3cdc" stroke-width="0.8"/>
<circle cx="663" cy="327" r="5.15" fill="#1414c0" stroke="#00006a" stroke-width="1.8"/><circle cx="663" cy="327" r="1.5" fill="#f4f4ff" stroke="#3c3cdc" stroke-width="0.8"/>
<circle cx="615" cy="351" r="5.15" fill="#1414c0" stroke="#00006a" stroke-width="1.8"/><circle cx="615" cy="351" r="1.5" fill="#f4f4ff" stroke="#3c3cdc" stroke-width="0.8"/>
<circle cx="575.5" cy="362" r="5.15" fill="#1414c0" stroke="#00006a" stroke-width="1.8"/><circle cx="575.5" cy="362" r="1.5" fill="#f4f4ff" stroke="#3c3cdc" stroke-width="0.8"/>
<circle cx="641" cy="370.5" r="5.15" fill="#1414c0" stroke="#00006a" stroke-width="1.8"/><circle cx="641" cy="370.5" r="1.5" fill="#f4f4ff" stroke="#3c3cdc" stroke-width="0.8"/>
<circle cx="660.5" cy="368.5" r="5.15" fill="#1414c0" stroke="#00006a" stroke-width="1.8"/><circle cx="660.5" cy="368.5" r="1.5" fill="#f4f4ff" stroke="#3c3cdc" stroke-width="0.8"/>
<circle cx="675" cy="365" r="5.15" fill="#1414c0" stroke="#00006a" stroke-width="1.8"/><circle cx="675" cy="365" r="1.5" fill="#f4f4ff" stroke="#3c3cdc" stroke-width="0.8"/>
<circle cx="707" cy="364" r="5.15" fill="#1414c0" stroke="#00006a" stroke-width="1.8"/><circle cx="707" cy="364" r="1.5" fill="#f4f4ff" stroke="#3c3cdc" stroke-width="0.8"/>
<circle cx="691" cy="380.5" r="5.15" fill="#1414c0" stroke="#00006a" stroke-width="1.8"/><circle cx="691" cy="380.5" r="1.5" fill="#f4f4ff" stroke="#3c3cdc" stroke-width="0.8"/>
<circle cx="722" cy="377" r="5.15" fill="#1414c0" stroke="#00006a" stroke-width="1.8"/><circle cx="722" cy="377" r="1.5" fill="#f4f4ff" stroke="#3c3cdc" stroke-width="0.8"/>
<circle cx="727" cy="380" r="5.15" fill="#1414c0" stroke="#00006a" stroke-width="1.8"/><circle cx="727" cy="380" r="1.5" fill="#f4f4ff" stroke="#3c3cdc" stroke-width="0.8"/>
<circle cx="721" cy="372" r="5.15" fill="#1414c0" stroke="#00006a" stroke-width="1.8"/><circle cx="721" cy="372" r="1.5" fill="#f4f4ff" stroke="#3c3cdc" stroke-width="0.8"/>
<circle cx="712.5" cy="375" r="5.15" fill="#1414c0" stroke="#00006a" stroke-width="1.8"/><circle cx="712.5" cy="375" r="1.5" fill="#f4f4ff" stroke="#3c3cdc" stroke-width="0.8"/>
<circle cx="717.5" cy="371" r="5.15" fill="#1414c0" stroke="#00006a" stroke-width="1.8"/><circle cx="717.5" cy="371" r="1.5" fill="#f4f4ff" stroke="#3c3cdc" stroke-width="0.8"/>
<circle cx="724" cy="373.5" r="5.15" fill="#1414c0" stroke="#00006a" stroke-width="1.8"/><circle cx="724" cy="373.5" r="1.5" fill="#f4f4ff" stroke="#3c3cdc" stroke-width="0.8"/>
<circle cx="727.5" cy="376" r="5.15" fill="#1414c0" stroke="#00006a" stroke-width="1.8"/><circle cx="727.5" cy="376" r="1.5" fill="#f4f4ff" stroke="#3c3cdc" stroke-width="0.8"/>
<circle cx="730" cy="362" r="5.15" fill="#1414c0" stroke="#00006a" stroke-width="1.8"/><circle cx="730" cy="362" r="1.5" fill="#f4f4ff" stroke="#3c3cdc" stroke-width="0.8"/>
<circle cx="716" cy="386" r="5.15" fill="#1414c0" stroke="#00006a" stroke-width="1.8"/><circle cx="716" cy="386" r="1.5" fill="#f4f4ff" stroke="#3c3cdc" stroke-width="0.8"/>
<circle cx="725" cy="383.5" r="5.15" fill="#1414c0" stroke="#00006a" stroke-width="1.8"/><circle cx="725" cy="383.5" r="1.5" fill="#f4f4ff" stroke="#3c3cdc" stroke-width="0.8"/>
<circle cx="731" cy="381" r="5.15" fill="#1414c0" stroke="#00006a" stroke-width="1.8"/><circle cx="731" cy="381" r="1.5" fill="#f4f4ff" stroke="#3c3cdc" stroke-width="0.8"/>
<circle cx="497" cy="383.5" r="5.15" fill="#1414c0" stroke="#00006a" stroke-width="1.8"/><circle cx="497" cy="383.5" r="1.5" fill="#f4f4ff" stroke="#3c3cdc" stroke-width="0.8"/>
<circle cx="531" cy="391.5" r="5.15" fill="#1414c0" stroke="#00006a" stroke-width="1.8"/><circle cx="531" cy="391.5" r="1.5" fill="#f4f4ff" stroke="#3c3cdc" stroke-width="0.8"/>
<circle cx="518" cy="402" r="5.15" fill="#1414c0" stroke="#00006a" stroke-width="1.8"/><circle cx="518" cy="402" r="1.5" fill="#f4f4ff" stroke="#3c3cdc" stroke-width="0.8"/>
<circle cx="492.5" cy="407" r="5.15" fill="#1414c0" stroke="#00006a" stroke-width="1.8"/><circle cx="492.5" cy="407" r="1.5" fill="#f4f4ff" stroke="#3c3cdc" stroke-width="0.8"/>
<circle cx="519.5" cy="418" r="5.15" fill="#1414c0" stroke="#00006a" stroke-width="1.8"/><circle cx="519.5" cy="418" r="1.5" fill="#f4f4ff" stroke="#3c3cdc" stroke-width="0.8"/>
<circle cx="519" cy="476.5" r="5.15" fill="#1414c0" stroke="#00006a" stroke-width="1.8"/><circle cx="519" cy="476.5" r="1.5" fill="#f4f4ff" stroke="#3c3cdc" stroke-width="0.8"/>
<circle cx="523" cy="477" r="5.15" fill="#1414c0" stroke="#00006a" stroke-width="1.8"/><circle cx="523" cy="477" r="1.5" fill="#f4f4ff" stroke="#3c3cdc" stroke-width="0.8"/>
<circle cx="655" cy="455" r="5.15" fill="#1414c0" stroke="#00006a" stroke-width="1.8"/><circle cx="655" cy="455" r="1.5" fill="#f4f4ff" stroke="#3c3cdc" stroke-width="0.8"/>
<circle cx="689" cy="444.5" r="5.15" fill="#1414c0" stroke="#00006a" stroke-width="1.8"/><circle cx="689" cy="444.5" r="1.5" fill="#f4f4ff" stroke="#3c3cdc" stroke-width="0.8"/>
<circle cx="919" cy="138" r="5.15" fill="#1414c0" stroke="#00006a" stroke-width="1.8"/><circle cx="919" cy="138" r="1.5" fill="#f4f4ff" stroke="#3c3cdc" stroke-width="0.8"/>
<circle cx="920" cy="153" r="5.15" fill="#1414c0" stroke="#00006a" stroke-width="1.8"/><circle cx="920" cy="153" r="1.5" fill="#f4f4ff" stroke="#3c3cdc" stroke-width="0.8"/>
<circle cx="789.5" cy="144" r="5.15" fill="#1414c0" stroke="#00006a" stroke-width="1.8"/><circle cx="789.5" cy="144" r="1.5" fill="#f4f4ff" stroke="#3c3cdc" stroke-width="0.8"/>
<circle cx="877.5" cy="183" r="5.15" fill="#1414c0" stroke="#00006a" stroke-width="1.8"/><circle cx="877.5" cy="183" r="1.5" fill="#f4f4ff" stroke="#3c3cdc" stroke-width="0.8"/>
<circle cx="874" cy="192" r="5.15" fill="#1414c0" stroke="#00006a" stroke-width="1.8"/><circle cx="874" cy="192" r="1.5" fill="#f4f4ff" stroke="#3c3cdc" stroke-width="0.8"/>
<circle cx="887.5" cy="182" r="5.15" fill="#1414c0" stroke="#00006a" stroke-width="1.8"/><circle cx="887.5" cy="182" r="1.5" fill="#f4f4ff" stroke="#3c3cdc" stroke-width="0.8"/>
<circle cx="892.5" cy="180.5" r="5.15" fill="#1414c0" stroke="#00006a" stroke-width="1.8"/><circle cx="892.5" cy="180.5" r="1.5" fill="#f4f4ff" stroke="#3c3cdc" stroke-width="0.8"/>
<circle cx="785" cy="195.5" r="5.15" fill="#1414c0" stroke="#00006a" stroke-width="1.8"/><circle cx="785" cy="195.5" r="1.5" fill="#f4f4ff" stroke="#3c3cdc" stroke-width="0.8"/>
<circle cx="827.5" cy="209" r="5.15" fill="#1414c0" stroke="#00006a" stroke-width="1.8"/><circle cx="827.5" cy="209" r="1.5" fill="#f4f4ff" stroke="#3c3cdc" stroke-width="0.8"/>
<circle cx="864" cy="207" r="5.15" fill="#1414c0" stroke="#00006a" stroke-width="1.8"/><circle cx="864" cy="207" r="1.5" fill="#f4f4ff" stroke="#3c3cdc" stroke-width="0.8"/>
<circle cx="867" cy="217.5" r="5.15" fill="#1414c0" stroke="#00006a" stroke-width="1.8"/><circle cx="867" cy="217.5" r="1.5" fill="#f4f4ff" stroke="#3c3cdc" stroke-width="0.8"/>
<circle cx="878" cy="214" r="5.15" fill="#1414c0" stroke="#00006a" stroke-width="1.8"/><circle cx="878" cy="214" r="1.5" fill="#f4f4ff" stroke="#3c3cdc" stroke-width="0.8"/>
<circle cx="841" cy="227" r="5.15" fill="#1414c0" stroke="#00006a" stroke-width="1.8"/><circle cx="841" cy="227" r="1.5" fill="#f4f4ff" stroke="#3c3cdc" stroke-width="0.8"/>
<circle cx="833" cy="260.5" r="5.15" fill="#1414c0" stroke="#00006a" stroke-width="1.8"/><circle cx="833" cy="260.5" r="1.5" fill="#f4f4ff" stroke="#3c3cdc" stroke-width="0.8"/>
<circle cx="836" cy="302" r="5.15" fill="#1414c0" stroke="#00006a" stroke-width="1.8"/><circle cx="836" cy="302" r="1.5" fill="#f4f4ff" stroke="#3c3cdc" stroke-width="0.8"/>
<circle cx="822.5" cy="308" r="5.15" fill="#1414c0" stroke="#00006a" stroke-width="1.8"/><circle cx="822.5" cy="308" r="1.5" fill="#f4f4ff" stroke="#3c3cdc" stroke-width="0.8"/>
<circle cx="799.5" cy="309" r="5.15" fill="#1414c0" stroke="#00006a" stroke-width="1.8"/><circle cx="799.5" cy="309" r="1.5" fill="#f4f4ff" stroke="#3c3cdc" stroke-width="0.8"/>
<circle cx="809" cy="330" r="5.15" fill="#1414c0" stroke="#00006a" stroke-width="1.8"/><circle cx="809" cy="330" r="1.5" fill="#f4f4ff" stroke="#3c3cdc" stroke-width="0.8"/>
<circle cx="806" cy="351" r="5.15" fill="#1414c0" stroke="#00006a" stroke-width="1.8"/><circle cx="806" cy="351" r="1.5" fill="#f4f4ff" stroke="#3c3cdc" stroke-width="0.8"/>
<circle cx="789.5" cy="403" r="5.15" fill="#1414c0" stroke="#00006a" stroke-width="1.8"/><circle cx="789.5" cy="403" r="1.5" fill="#f4f4ff" stroke="#3c3cdc" stroke-width="0.8"/>
<circle cx="745.5" cy="375.5" r="5.15" fill="#1414c0" stroke="#00006a" stroke-width="1.8"/><circle cx="745.5" cy="375.5" r="1.5" fill="#f4f4ff" stroke="#3c3cdc" stroke-width="0.8"/>
<circle cx="739.5" cy="392" r="5.15" fill="#1414c0" stroke="#00006a" stroke-width="1.8"/><circle cx="739.5" cy="392" r="1.5" fill="#f4f4ff" stroke="#3c3cdc" stroke-width="0.8"/>
<circle cx="772" cy="336" r="5.15" fill="#1414c0" stroke="#00006a" stroke-width="1.8"/><circle cx="772" cy="336" r="1.5" fill="#f4f4ff" stroke="#3c3cdc" stroke-width="0.8"/>
<circle cx="785" cy="444" r="5.15" fill="#1414c0" stroke="#00006a" stroke-width="1.8"/><circle cx="785" cy="444" r="1.5" fill="#f4f4ff" stroke="#3c3cdc" stroke-width="0.8"/>
<circle cx="796" cy="488.5" r="5.15" fill="#1414c0" stroke="#00006a" stroke-width="1.8"/><circle cx="796" cy="488.5" r="1.5" fill="#f4f4ff" stroke="#3c3cdc" stroke-width="0.8"/>
<circle cx="794" cy="493" r="5.15" fill="#1414c0" stroke="#00006a" stroke-width="1.8"/><circle cx="794" cy="493" r="1.5" fill="#f4f4ff" stroke="#3c3cdc" stroke-width="0.8"/>
<circle cx="787.5" cy="495" r="5.15" fill="#1414c0" stroke="#00006a" stroke-width="1.8"/><circle cx="787.5" cy="495" r="1.5" fill="#f4f4ff" stroke="#3c3cdc" stroke-width="0.8"/>
<circle cx="795" cy="499" r="5.15" fill="#1414c0" stroke="#00006a" stroke-width="1.8"/><circle cx="795" cy="499" r="1.5" fill="#f4f4ff" stroke="#3c3cdc" stroke-width="0.8"/>
<circle cx="769.5" cy="500" r="5.15" fill="#1414c0" stroke="#00006a" stroke-width="1.8"/><circle cx="769.5" cy="500" r="1.5" fill="#f4f4ff" stroke="#3c3cdc" stroke-width="0.8"/>
<circle cx="829" cy="519.5" r="5.15" fill="#1414c0" stroke="#00006a" stroke-width="1.8"/><circle cx="829" cy="519.5" r="1.5" fill="#f4f4ff" stroke="#3c3cdc" stroke-width="0.8"/>
<circle cx="796" cy="537" r="5.15" fill="#1414c0" stroke="#00006a" stroke-width="1.8"/><circle cx="796" cy="537" r="1.5" fill="#f4f4ff" stroke="#3c3cdc" stroke-width="0.8"/>
<circle cx="829" cy="539" r="5.15" fill="#1414c0" stroke="#00006a" stroke-width="1.8"/><circle cx="829" cy="539" r="1.5" fill="#f4f4ff" stroke="#3c3cdc" stroke-width="0.8"/>
<circle cx="830" cy="542" r="5.15" fill="#1414c0" stroke="#00006a" stroke-width="1.8"/><circle cx="830" cy="542" r="1.5" fill="#f4f4ff" stroke="#3c3cdc" stroke-width="0.8"/>
<circle cx="824.5" cy="548.5" r="5.15" fill="#1414c0" stroke="#00006a" stroke-width="1.8"/><circle cx="824.5" cy="548.5" r="1.5" fill="#f4f4ff" stroke="#3c3cdc" stroke-width="0.8"/>
</g>
<circle cx="127.1" cy="445.9" r="4.5" fill="#e01010" stroke="#7a1010" stroke-width="0.8"/>
<circle cx="127.1" cy="465.1" r="2.9" fill="#fff" stroke="#0a0aa8" stroke-width="2.6"/>
<text x="138.8" y="449" font-size="8.9" textLength="156.5" lengthAdjust="spacingAndGlyphs">Cargo Theft Incident, Previous 9 mos</text>
<text x="138.8" y="467.8" font-size="8.9" textLength="127.5" lengthAdjust="spacingAndGlyphs" style="white-space:pre">Cargo Theft Incident,  Feb-Apr</text>
</svg></body></html>
